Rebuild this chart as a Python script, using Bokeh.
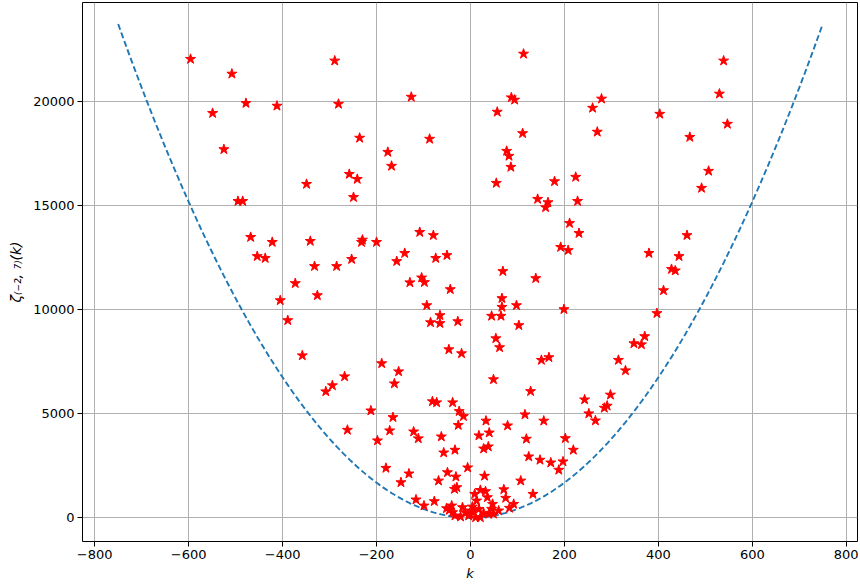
import numpy as np
from bokeh.plotting import figure
from bokeh.models import Range1d, FixedTicker
from bokeh.embed import file_html
from bokeh.resources import INLINE

k_vals = [-596, -508, -289, -478, -412, -281, -549, -525, -349, -495, -485,
          113, -126, 87, 94, 279, 57, 260, -236, -87, 111, 270, -176, 77, 82, -168, 86, -258, -241, 55, 179, 224, -249, 143, 165, 160, 228,
          539, 530, 403, 547, 467, 507, 492,
          -468, -422, -341, -454, -437, -332, -285, -373, -326, -405, -389, -358, -294, -308, -268,
          211, 231, -108, -79, -230, -232, -200, 192, 208, -140, -253, -157, -74, -50, 69, 139, -104, -98, -129, -43,
          67, -93, 67, 98, 199, -65, -85, -65, -27, 45, 65, 103, 54, 62, -46, -19, 151, 167, -189, -153, -162, 49, 128,
          461, 380, 444, 428, 436, 411, 397, 371, 348, 364, 315, 330, 298, 291, 285, 243, 252, 266,
          -262, -212, -165, -172, -198, -81, -72, -38, -24, -15, -26, -121, -111, -62, -57, -33, -6, -180, -131, -148,
          -49, -31, -68, -34, -29, -116, -77, -99, -51, -45, -40, -38, -17, -33, -21, -11, -4, 1,
          116, 156, 33, 79, 18, 40, 119, 28, 38, 202, 219, 124, 148, 171, 197, 188, 30, 107, 71, 21,
          32, 9, 36, 75, 133, 13, 92, 83, 47, 4, 5, 18, 45, 60, 28, 39, -2, 11, 21, 49]

zeta_vals = [22050, 21340, 21970, 19930, 19800, 19890, 19450, 17710, 16040, 15220, 15220,
             22300, 20230, 20200, 20090, 20140, 19510, 19700, 18260, 18210, 18480, 18550, 17580, 17630, 17390, 16910, 16860, 16520, 16280, 16090, 16170, 16380, 15410, 15320, 15160, 14920, 15220,
             21970, 20380, 19410, 18930, 18300, 16670, 15850,
             13490, 13250, 13300, 12570, 12480, 12090, 12090, 11270, 10690, 10450, 9490, 7800, 6360, 6070, 6790,
             14160, 13680, 13730, 13580, 13360, 13250, 13250, 13010, 12860, 12720, 12430, 12330, 12480, 12620, 11850, 11510, 11540, 11320, 11310, 10980,
             10550, 10210, 10130, 10210, 10020, 9730, 9390, 9350, 9440, 9700, 9700, 9250, 8620, 8190, 8090, 7900, 7580, 7710, 7420, 7030, 6450, 6650, 6080,
             13580, 12720, 12570, 11950, 11880, 10930, 9830, 8720, 8380, 8330, 7580, 7080, 5910, 5380, 5280, 5680, 5010, 4670,
             4220, 5150, 4830, 4190, 3710, 5590, 5540, 5540, 5120, 4880, 4450, 4140, 3810, 3900, 3130, 3260, 2410, 2390, 2120, 1700,
             2180, 1970, 1780, 1380, 1460, 870, 790, 580, 450, 370, 580, 260, 500, 100, 50, 260, 100, 340,
             4960, 4660, 4660, 4430, 3950, 4090, 3790, 3320, 3420, 3820, 3260, 2940, 2780, 2650, 2700, 2300, 2010, 1780, 1360, 1330,
             1270, 1140, 980, 950, 1140, 820, 660, 470, 660, 530, 300, 420, 420, 340, 230, 180, 180, 15, 15, 190]

# bounding parabola  zeta ~ k^2 / c
curve_k_min, curve_k_max = -750, 750
curve_coef = 23.7

x_ticks = [-800, -600, -400, -200, 0, 200, 400, 600, 800]
y_ticks = [0, 5000, 10000, 15000, 20000]

kc = np.linspace(curve_k_min, curve_k_max, 400)
yc = kc ** 2 / curve_coef

p = figure(width=860, height=585, output_backend="svg", toolbar_location=None,
           x_range=Range1d(-826, 824), y_range=Range1d(-1140, 24770),
           min_border_left=82, min_border_right=3, min_border_top=2, min_border_bottom=44)

p.line(kc, yc, line_color="#1f77b4", line_width=1.9, line_dash="6 3")
p.scatter(k_vals, zeta_vals, marker="star", size=10.5, fill_color="red", line_color="red")

p.outline_line_color = "black"
p.outline_line_alpha = 1
p.outline_line_width = 1
p.background_fill_color = "white"
p.border_fill_color = "white"

for g in (p.xgrid, p.ygrid):
    g.grid_line_color = "#b0b0b0"
    g.grid_line_width = 1

p.xaxis.ticker = FixedTicker(ticks=x_ticks)
p.yaxis.ticker = FixedTicker(ticks=y_ticks)

for ax in (p.xaxis, p.yaxis):
    ax.axis_line_color = None
    ax.major_tick_line_color = "black"
    ax.major_tick_out = 5
    ax.major_tick_in = 0
    ax.minor_tick_line_color = None
    ax.major_label_text_font = "DejaVu Sans"
    ax.major_label_text_font_size = "13px"
    ax.major_label_text_color = "black"
    ax.axis_label_text_font = "DejaVu Sans"
    ax.axis_label_text_color = "black"
    ax.major_label_standoff = 3

p.xaxis.axis_label_text_font_size = "13px"
p.yaxis.axis_label_text_font_size = "14px"
p.xaxis.axis_label_standoff = 4
p.yaxis.axis_label_standoff = 6
p.xaxis.axis_label = "k"
p.xaxis.axis_label_text_font_style = "italic"
p.yaxis.axis_label = "ζ₍₋₂, ₇₎(k)"
p.yaxis.axis_label_text_font_style = "italic"
p.yaxis.major_label_orientation = "horizontal"

open("out.html", "w").write(file_html(p, INLINE))
